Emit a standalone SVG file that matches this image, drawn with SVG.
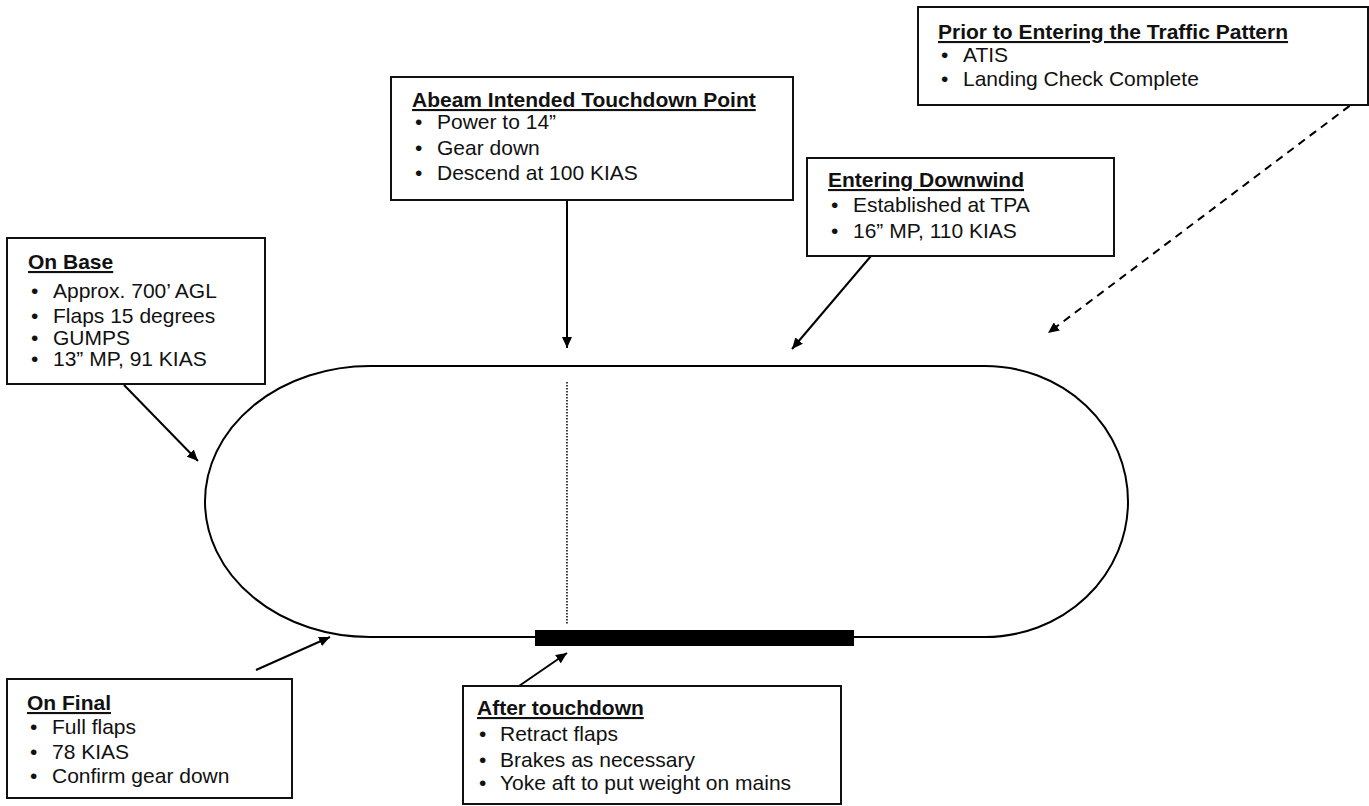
<svg xmlns="http://www.w3.org/2000/svg" width="1369" height="806" viewBox="0 0 1369 806">
<style>
.box{fill:#fff;stroke:#111;stroke-width:2}
.t{font-family:"Liberation Sans",Arial,sans-serif;font-size:21px;fill:#111}
.h{font-weight:bold;text-decoration:underline}
.ln{stroke:#000;stroke-width:2;fill:none}
.dash{stroke-dasharray:8,6}
</style>
<defs>
<marker id="ah" markerUnits="userSpaceOnUse" markerWidth="11" markerHeight="10" refX="11" refY="5" orient="auto">
<path d="M0,0 L11,5 L0,10 z" fill="#000"/>
</marker>
</defs>
<rect width="1369" height="806" fill="#fff"/>
<g id="pattern">
<path class="ln" d="M370,366 L985,366 A143,135.5 0 0 1 985,637 L370,637 A165,135.5 0 0 1 370,366 Z"/>
<line x1="567" y1="382" x2="567" y2="624" stroke="#000" stroke-width="1.5" stroke-dasharray="1.5,1.5"/>
<rect x="535" y="630" width="319" height="16" fill="#000"/>
</g>
<g id="connectors">
<line class="ln" x1="567" y1="201" x2="567" y2="348" marker-end="url(#ah)"/>
<line class="ln" x1="871" y1="256" x2="792" y2="349" marker-end="url(#ah)"/>
<line class="ln dash" x1="1372" y1="89" x2="1048" y2="333" marker-end="url(#ah)"/>
<line class="ln" x1="124" y1="385" x2="198" y2="461" marker-end="url(#ah)"/>
<line class="ln" x1="256" y1="670" x2="330" y2="637" marker-end="url(#ah)"/>
<line class="ln" x1="519" y1="686" x2="567" y2="653" marker-end="url(#ah)"/>
</g>
<g id="prior">
<rect class="box" x="918" y="7" width="450" height="98"/>
<text class="t h" x="938" y="39">Prior to Entering the Traffic Pattern</text>
<text class="t" x="941" y="62">•</text><text class="t" x="963" y="62">ATIS</text>
<text class="t" x="941" y="86">•</text><text class="t" x="963" y="86">Landing Check Complete</text>
</g>
<g id="abeam">
<rect class="box" x="391" y="77" width="402" height="123"/>
<text class="t h" x="412" y="107">Abeam Intended Touchdown Point</text>
<text class="t" x="415" y="129">•</text><text class="t" x="437" y="129">Power to 14”</text>
<text class="t" x="415" y="155">•</text><text class="t" x="437" y="155">Gear down</text>
<text class="t" x="415" y="180">•</text><text class="t" x="437" y="180">Descend at 100 KIAS</text>
</g>
<g id="downwind">
<rect class="box" x="807" y="158" width="307" height="98"/>
<text class="t h" x="828" y="187">Entering Downwind</text>
<text class="t" x="831" y="212">•</text><text class="t" x="853" y="212">Established at TPA</text>
<text class="t" x="831" y="238">•</text><text class="t" x="853" y="238">16” MP, 110 KIAS</text>
</g>
<g id="base">
<rect class="box" x="7" y="238" width="258" height="146"/>
<text class="t h" x="28" y="269">On Base</text>
<text class="t" x="31" y="298">•</text><text class="t" x="53" y="298">Approx. 700’ AGL</text>
<text class="t" x="31" y="323">•</text><text class="t" x="53" y="323">Flaps 15 degrees</text>
<text class="t" x="31" y="345">•</text><text class="t" x="53" y="345">GUMPS</text>
<text class="t" x="31" y="366">•</text><text class="t" x="53" y="366">13” MP, 91 KIAS</text>
</g>
<g id="final">
<rect class="box" x="7" y="679" width="285" height="119"/>
<text class="t h" x="27" y="710">On Final</text>
<text class="t" x="30" y="734">•</text><text class="t" x="52" y="734">Full flaps</text>
<text class="t" x="30" y="759">•</text><text class="t" x="52" y="759">78 KIAS</text>
<text class="t" x="30" y="783">•</text><text class="t" x="52" y="783">Confirm gear down</text>
</g>
<g id="touchdown">
<rect class="box" x="463" y="686" width="378" height="118"/>
<text class="t h" x="477" y="715">After touchdown</text>
<text class="t" x="479" y="741">•</text><text class="t" x="500" y="741">Retract flaps</text>
<text class="t" x="479" y="767">•</text><text class="t" x="500" y="767">Brakes as necessary</text>
<text class="t" x="479" y="790">•</text><text class="t" x="500" y="790">Yoke aft to put weight on mains</text>
</g>
</svg>
